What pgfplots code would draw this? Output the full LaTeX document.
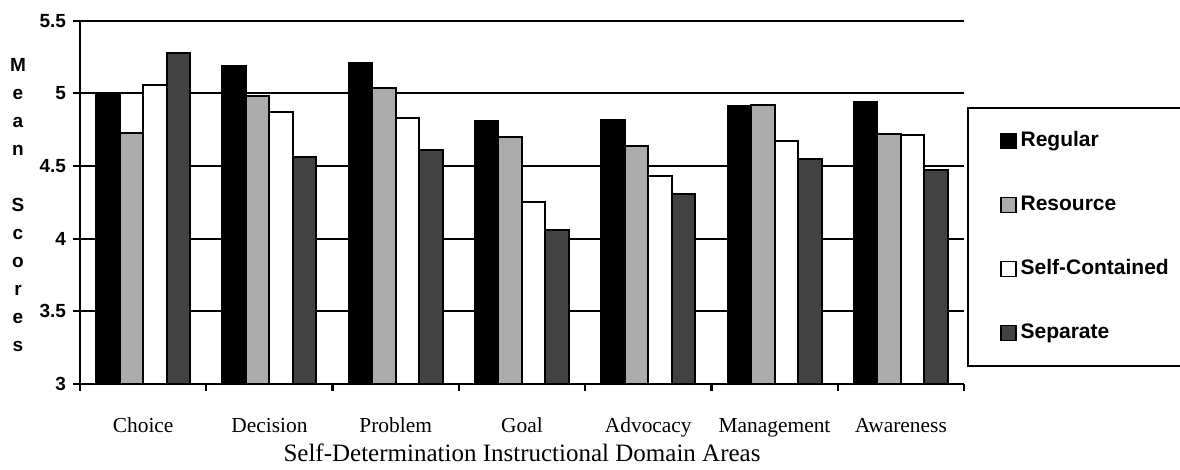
\documentclass[border=0pt]{standalone}
\usepackage{pgfplots}
\pgfplotsset{compat=1.18}
\usepackage{fontspec}
\setmainfont{Liberation Serif}
\newfontfamily\arialf{Liberation Sans}
\definecolor{resgray}{HTML}{ABABAB}
\definecolor{sepgray}{HTML}{424242}
\begin{document}
\begin{tikzpicture}
\useasboundingbox (-40pt,-43pt) rectangle (550pt,192pt);
\clip (-40pt,-43pt) rectangle (550pt,192pt);
\begin{axis}[
  at={(0,0)}, anchor=south west,
  width=442pt, height=181.65pt, scale only axis,
  ymin=3, ymax=5.5, ytick={3,3.5,4,4.5,5,5.5},
  xmin=-0.5, xmax=6.5,
  ybar=0pt, bar width=11.75pt,
  axis x line*=bottom, axis y line*=left,
  axis line style={line width=1.1pt},
  ymajorgrids, grid style={black, line width=1.1pt},
  tick align=outside,
  major tick length=3.5pt, minor tick length=3.5pt,
  tick style={black, line width=1.1pt},
  xtick={0,1,2,3,4,5,6},
  xticklabels={Choice,Decision,Problem,Goal,Advocacy,Management,Awareness},
  major x tick style={draw=none},
  minor xtick={-0.5,0.5,1.5,2.5,3.5,4.5,5.5,6.5},
  xticklabel style={anchor=base, yshift=-21pt, font=\fontsize{10.7}{12}\selectfont},
  yticklabel style={font=\arialf\bfseries\fontsize{9.5}{10}\selectfont},
  /pgf/number format/assume math mode=true,
  xlabel={Self-Determination Instructional Domain Areas},
  every axis x label/.style={at={(rel axis cs:0.5,0)}, anchor=base, yshift=-39pt, font=\fontsize{12.5}{14}\selectfont},
  ylabel={M\\e\\a\\n\\[14pt]S\\c\\o\\r\\e\\s},
  every axis y label/.style={at={(rel axis cs:0,0.5)}, anchor=center, xshift=-31pt, yshift=-1.5pt, align=center, font=\arialf\bfseries\fontsize{9.5}{14}\selectfont},
  legend style={draw=black, line width=1pt, at={(rel axis cs:1.0034,0.7625)}, anchor=north west,
    inner xsep=16pt, inner ysep=10pt, row sep=19pt,
    font=\arialf\bfseries\fontsize{10.5}{12}\selectfont,
    cells={text height=7.5pt, text depth=2pt}},
  legend cell align=left,
  legend image code/.code={\draw[#1, line width=0.8pt] (0pt,-3.75pt) rectangle (7.5pt,3.75pt);},
  clip=false,
]
\addplot[fill=black, draw=black, line width=1pt] coordinates {(0,5.00) (1,5.19) (2,5.21) (3,4.81) (4,4.82) (5,4.91) (6,4.94)};
\addplot[fill=resgray, draw=black, line width=1pt] coordinates {(0,4.73) (1,4.98) (2,5.04) (3,4.70) (4,4.64) (5,4.92) (6,4.72)};
\addplot[fill=white, draw=black, line width=1pt] coordinates {(0,5.06) (1,4.87) (2,4.83) (3,4.25) (4,4.43) (5,4.67) (6,4.71)};
\addplot[fill=sepgray, draw=black, line width=1pt] coordinates {(0,5.28) (1,4.56) (2,4.61) (3,4.06) (4,4.31) (5,4.55) (6,4.47)};
\legend{\makebox[100pt][l]{Regular},\makebox[100pt][l]{Resource},\makebox[100pt][l]{Self-Contained},\makebox[100pt][l]{Separate}}
\end{axis}
\end{tikzpicture}
\end{document}
